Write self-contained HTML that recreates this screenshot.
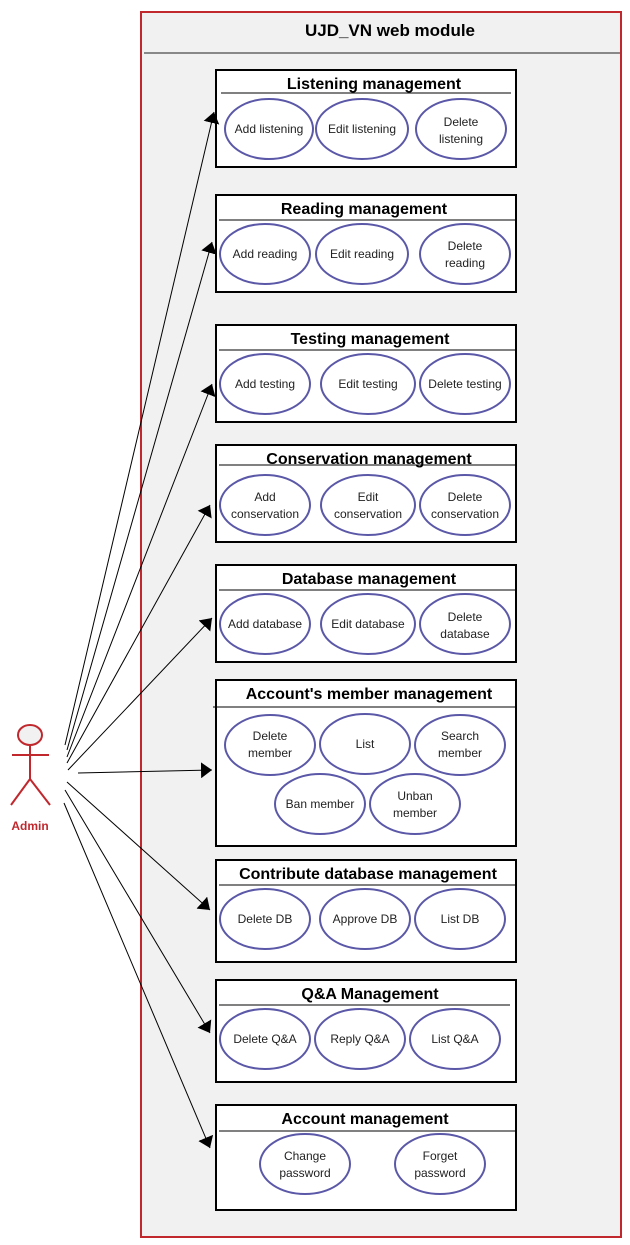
<!DOCTYPE html>
<html><head><style>body{margin:0;background:#fff}svg{display:block}text{font-family:"Liberation Sans",Arial,sans-serif}</style></head>
<body>
<svg width="630" height="1245" viewBox="0 0 630 1245" xmlns="http://www.w3.org/2000/svg">
<defs><marker id="a" markerWidth="12" markerHeight="16" refX="11" refY="8" orient="auto" markerUnits="userSpaceOnUse"><path d="M0,0 L11,8 L0,16 z" fill="#000"/></marker></defs>
<rect x="141" y="12" width="480" height="1225" fill="#f1f1f1" stroke="#c0282d" stroke-width="2"/>
<text x="390" y="36" font-size="17" font-weight="bold" text-anchor="middle">UJD_VN web module</text>
<line x1="144" y1="53" x2="620" y2="53" stroke="#666" stroke-width="1.5"/>
<g stroke="#000" stroke-width="2" fill="#fff">
<rect x="216" y="70" width="300" height="97"/>
<rect x="216" y="195" width="300" height="97"/>
<rect x="216" y="325" width="300" height="97"/>
<rect x="216" y="445" width="300" height="97"/>
<rect x="216" y="565" width="300" height="97"/>
<rect x="216" y="680" width="300" height="166"/>
<rect x="216" y="860" width="300" height="102"/>
<rect x="216" y="980" width="300" height="102"/>
<rect x="216" y="1105" width="300" height="105"/>
</g>
<g stroke="#000" stroke-width="1">
<line x1="221" y1="93" x2="511" y2="93"/>
<line x1="219" y1="220" x2="516" y2="220"/>
<line x1="219" y1="350" x2="516" y2="350"/>
<line x1="219" y1="465" x2="516" y2="465"/>
<line x1="219" y1="590" x2="516" y2="590"/>
<line x1="213" y1="707" x2="516" y2="707"/>
<line x1="219" y1="885" x2="516" y2="885"/>
<line x1="219" y1="1005" x2="510" y2="1005"/>
<line x1="219" y1="1131" x2="516" y2="1131"/>
</g>
<g font-size="16" font-weight="bold" text-anchor="middle">
<text x="374" y="89">Listening management</text>
<text x="364" y="214">Reading management</text>
<text x="370" y="344">Testing management</text>
<text x="369" y="464">Conservation management</text>
<text x="369" y="584">Database management</text>
<text x="369" y="699">Account's member management</text>
<text x="368" y="879">Contribute database management</text>
<text x="370" y="999">Q&amp;A Management</text>
<text x="365" y="1124">Account management</text>
</g>
<g fill="#fff" stroke="#5b58a8" stroke-width="2">
<ellipse cx="269" cy="129" rx="44" ry="30"/><ellipse cx="362" cy="129" rx="46" ry="30"/><ellipse cx="461" cy="129" rx="45" ry="30"/>
<ellipse cx="265" cy="254" rx="45" ry="30"/><ellipse cx="362" cy="254" rx="46" ry="30"/><ellipse cx="465" cy="254" rx="45" ry="30"/>
<ellipse cx="265" cy="384" rx="45" ry="30"/><ellipse cx="368" cy="384" rx="47" ry="30"/><ellipse cx="465" cy="384" rx="45" ry="30"/>
<ellipse cx="265" cy="505" rx="45" ry="30"/><ellipse cx="368" cy="505" rx="47" ry="30"/><ellipse cx="465" cy="505" rx="45" ry="30"/>
<ellipse cx="265" cy="624" rx="45" ry="30"/><ellipse cx="368" cy="624" rx="47" ry="30"/><ellipse cx="465" cy="624" rx="45" ry="30"/>
<ellipse cx="270" cy="745" rx="45" ry="30"/><ellipse cx="365" cy="744" rx="45" ry="30"/><ellipse cx="460" cy="745" rx="45" ry="30"/>
<ellipse cx="320" cy="804" rx="45" ry="30"/><ellipse cx="415" cy="804" rx="45" ry="30"/>
<ellipse cx="265" cy="919" rx="45" ry="30"/><ellipse cx="365" cy="919" rx="45" ry="30"/><ellipse cx="460" cy="919" rx="45" ry="30"/>
<ellipse cx="265" cy="1039" rx="45" ry="30"/><ellipse cx="360" cy="1039" rx="45" ry="30"/><ellipse cx="455" cy="1039" rx="45" ry="30"/>
<ellipse cx="305" cy="1164" rx="45" ry="30"/><ellipse cx="440" cy="1164" rx="45" ry="30"/>
</g>
<g font-size="12" text-anchor="middle" fill="#222">
<text x="269" y="133">Add listening</text><text x="362" y="133">Edit listening</text><text x="461" y="126">Delete</text><text x="461" y="143">listening</text>
<text x="265" y="258">Add reading</text><text x="362" y="258">Edit reading</text><text x="465" y="250">Delete</text><text x="465" y="267">reading</text>
<text x="265" y="388">Add testing</text><text x="368" y="388">Edit testing</text><text x="465" y="388">Delete testing</text>
<text x="265" y="501">Add</text><text x="265" y="518">conservation</text><text x="368" y="501">Edit</text><text x="368" y="518">conservation</text><text x="465" y="501">Delete</text><text x="465" y="518">conservation</text>
<text x="265" y="628">Add database</text><text x="368" y="628">Edit database</text><text x="465" y="621">Delete</text><text x="465" y="638">database</text>
<text x="270" y="740">Delete</text><text x="270" y="757">member</text><text x="365" y="748">List</text><text x="460" y="740">Search</text><text x="460" y="757">member</text>
<text x="320" y="808">Ban member</text><text x="415" y="800">Unban</text><text x="415" y="817">member</text>
<text x="265" y="923">Delete DB</text><text x="365" y="923">Approve DB</text><text x="460" y="923">List DB</text>
<text x="265" y="1043">Delete Q&amp;A</text><text x="360" y="1043">Reply Q&amp;A</text><text x="455" y="1043">List Q&amp;A</text>
<text x="305" y="1160">Change</text><text x="305" y="1177">password</text><text x="440" y="1160">Forget</text><text x="440" y="1177">password</text>
</g>
<g stroke="#000" stroke-width="1" marker-end="url(#a)">
<line x1="65" y1="745" x2="214" y2="112"/>
<line x1="67" y1="750" x2="212" y2="242"/>
<line x1="67" y1="757" x2="212" y2="384"/>
<line x1="67" y1="763" x2="210" y2="505"/>
<line x1="68" y1="770" x2="212" y2="618"/>
<line x1="78" y1="773" x2="212" y2="770"/>
<line x1="67" y1="782" x2="210" y2="910"/>
<line x1="65" y1="790" x2="210" y2="1033"/>
<line x1="64" y1="803" x2="210" y2="1148"/>
</g>
<g stroke="#c0282d" stroke-width="2" fill="#f1f1f1">
<ellipse cx="30" cy="735" rx="12" ry="10"/>
<line x1="30" y1="745" x2="30" y2="779"/>
<line x1="12" y1="755" x2="49" y2="755"/>
<line x1="30" y1="779" x2="11" y2="805"/>
<line x1="30" y1="779" x2="50" y2="805"/>
</g>
<text x="30" y="830" font-size="12" font-weight="bold" fill="#c0282d" text-anchor="middle">Admin</text>
</svg>
</body></html>
